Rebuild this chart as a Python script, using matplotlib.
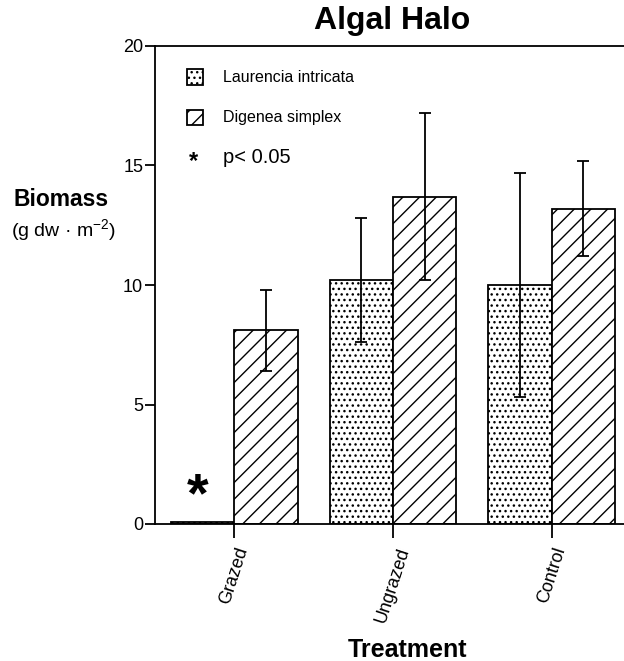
import matplotlib
matplotlib.use('Agg')
import matplotlib.pyplot as plt
import numpy as np
from matplotlib.patches import Rectangle

plt.rcParams['font.family'] = ['Liberation Sans', 'DejaVu Sans']
plt.rcParams['mathtext.fontset'] = 'custom'
plt.rcParams['mathtext.rm'] = 'Liberation Sans'
plt.rcParams['mathtext.it'] = 'Liberation Sans:italic'
plt.rcParams['mathtext.bf'] = 'Liberation Sans:bold'
plt.rcParams['hatch.linewidth'] = 1.0
plt.rcParams['hatch.color'] = 'black'

# ---- data ----
categories = ['Grazed', 'Ungrazed', 'Control']
series_names = ['Laurencia intricata', 'Digenea simplex']
laurencia = [0.1, 10.2, 10.0]
laurencia_err = [0.0, 2.6, 4.7]
digenea = [8.1, 13.7, 13.2]
digenea_err = [1.7, 3.5, 2.0]
yticks = [0, 5, 10, 15, 20]
sig_label = 'p< 0.05'

W, H = 624, 661
fig = plt.figure(figsize=(W / 100, H / 100), dpi=100)
ax = fig.add_axes([155 / W, 137 / H, 476 / W, 478 / H])

x = np.arange(len(categories))
w = 0.4
lw = 1.3
ax.bar(x - w / 2, laurencia, w, facecolor='white', edgecolor='black',
       hatch='...', linewidth=lw, zorder=2)
ax.bar(x + w / 2, digenea, w, facecolor='white', edgecolor='black',
       hatch='//', linewidth=lw, zorder=2)

lx = [xi - w / 2 for xi, e in zip(x, laurencia_err) if e > 0]
ly = [v for v, e in zip(laurencia, laurencia_err) if e > 0]
le = [e for e in laurencia_err if e > 0]
ax.errorbar(lx, ly, yerr=le, fmt='none', ecolor='black', elinewidth=lw,
            capsize=4.5, capthick=lw, zorder=3)
ax.errorbar(x + w / 2, digenea, yerr=digenea_err, fmt='none', ecolor='black',
            elinewidth=lw, capsize=4.5, capthick=lw, zorder=3)

# significance asterisk over grazed Laurencia
ax.text(x[0] - w / 2 - 0.03, 1.1, '*', ha='center', va='center', fontsize=40,
        fontweight='bold', zorder=4)

ax.set_xlim(-0.5, 2.5)
ax.set_ylim(0, 20)
ax.set_yticks(yticks)
ax.set_xticks(x)
ax.set_xticklabels(categories, rotation=72, ha='center', va='top')
for s in ['left', 'top', 'bottom']:
    ax.spines[s].set_linewidth(lw)
ax.spines['right'].set_visible(False)
ax.tick_params(axis='y', direction='out', length=7, width=lw, labelsize=13, pad=1.5)
ax.tick_params(axis='x', direction='out', length=10, width=lw, labelsize=13, pad=5)

# legend (manual)
ax.add_patch(Rectangle((0.067, 0.935 - 0.016), 0.034, 0.032, transform=ax.transAxes,
                       facecolor='white', edgecolor='black', hatch='...', linewidth=lw))
ax.add_patch(Rectangle((0.067, 0.851 - 0.016), 0.034, 0.032, transform=ax.transAxes,
                       facecolor='white', edgecolor='black', hatch='//', linewidth=lw))
ax.text(0.143, 0.935, series_names[0], transform=ax.transAxes, ha='left', va='center', fontsize=11.5)
ax.text(0.143, 0.851, series_names[1], transform=ax.transAxes, ha='left', va='center', fontsize=11.5)
ax.text(0.080, 0.758, '*', transform=ax.transAxes, ha='center', va='center', fontsize=17,
        fontweight='bold')
ax.text(0.143, 0.766, sig_label, transform=ax.transAxes, ha='left', va='center', fontsize=14.5)

# titles / labels
fig.text(392 / W, 1 - 21 / H, 'Algal Halo', ha='center', va='center', fontsize=23, fontweight='bold')
fig.text(61 / W, 1 - 199 / H, 'Biomass', ha='center', va='center', fontsize=16.5, fontweight='bold')
fig.text(63 / W, 1 - 230 / H, '(g dw \u00b7 m$^{-2}$)', ha='center', va='center', fontsize=14)
fig.text(407 / W, 1 - 650 / H, 'Treatment', ha='center', va='center', fontsize=18, fontweight='bold')

fig.savefig('out.png', dpi=100)
